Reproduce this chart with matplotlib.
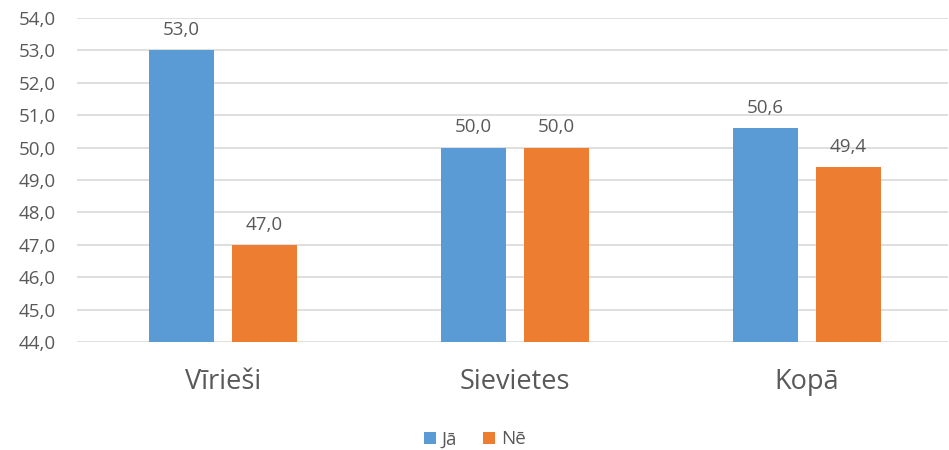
import matplotlib

matplotlib.use("Agg")
import matplotlib.pyplot as plt
import numpy as np

categories = ["Vīrieši", "Sievietes", "Kopā"]
series_names = ["Jā", "Nē"]
ja_values = [53.0, 50.0, 50.6]
ne_values = [47.0, 50.0, 49.4]

BLUE = "#5B9BD5"
ORANGE = "#ED7D31"
TEXT = "#595959"

plt.rcParams["font.family"] = ["Open Sans", "DejaVu Sans"]

fig = plt.figure(figsize=(9.49, 4.5), dpi=100)
ax = fig.add_axes([0.081, 0.24, 0.918, 0.72])

x = np.arange(len(categories))
w = 0.223
off = 0.142
for vals, color, name, dx in [(ja_values, BLUE, series_names[0], -off),
                              (ne_values, ORANGE, series_names[1], off)]:
    bars = ax.bar(x + dx, vals, width=w, color=color, label=name, zorder=2)
    for b, v in zip(bars, vals):
        ax.annotate(f"{v:.1f}".replace(".", ","),
                    xy=(b.get_x() + b.get_width() / 2, v),
                    xytext=(0, 8), textcoords="offset points",
                    ha="center", va="bottom", fontsize=13.5, color=TEXT)

ax.set_ylim(44, 54)
ax.set_xlim(-0.5, 2.483)
ax.set_yticks(np.arange(44, 55, 1))
ax.set_yticklabels([f"{t:.1f}".replace(".", ",") for t in np.arange(44, 55, 1)])
ax.set_xticks(x)
ax.set_xticklabels(categories)
ax.tick_params(axis="y", length=0, labelsize=13.5, labelcolor=TEXT, pad=15)
ax.tick_params(axis="x", length=0, labelsize=19.5, labelcolor=TEXT, pad=19)
ax.grid(axis="y", color="#D9D9D9", linewidth=1.2, zorder=0)
for s in ax.spines.values():
    s.set_visible(False)

fig.legend(loc="lower center", bbox_to_anchor=(0.5, -0.034), ncol=2, frameon=False,
           fontsize=13.5, labelcolor=TEXT, handlelength=0.65, handleheight=0.65,
           handletextpad=0.3, columnspacing=1.4)

plt.savefig("out.png", dpi=100)
plt.close(fig)
